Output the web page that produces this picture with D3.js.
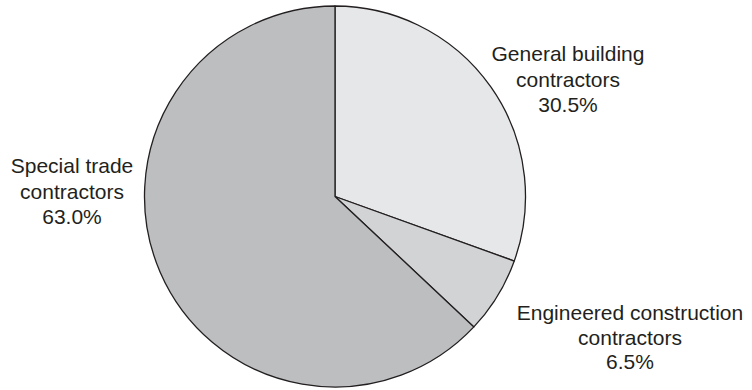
<!DOCTYPE html>
<html>
<head>
<meta charset="utf-8">
<script src="https://cdn.jsdelivr.net/npm/d3@7"></script>
<style>
  html, body { margin: 0; padding: 0; background: #fff; }
  svg { display: block; }
  text { font-family: "Liberation Sans", Arial, Helvetica, sans-serif; fill: #231f20; }
</style>
</head>
<body>
<script>
// Data
const categories = ["General building contractors", "Engineered construction contractors", "Special trade contractors"];
const labelLines = [["General building", "contractors"], ["Engineered construction", "contractors"], ["Special trade", "contractors"]];
const values = [30.5, 6.5, 63.0];
const colors = ["#e6e7e8", "#d1d3d4", "#bcbec0"];

// Layout
const W = 752, H = 390;
const cx = 335, cy = 196.5, R = 190.5;
const labelPos = [
  { x: 568, y: 61 },
  { x: 630, y: 320 },
  { x: 72, y: 173 }
];
const lineH = 25.5;

const svg = d3.select("body").append("svg").attr("width", W).attr("height", H);
const g = svg.append("g").attr("transform", `translate(${cx},${cy})`);

const pie = d3.pie().sort(null).value(d => d)(values);
const arc = d3.arc().innerRadius(0).outerRadius(R);

g.selectAll("path").data(pie).join("path")
  .attr("d", arc)
  .attr("fill", (d, i) => colors[i])
  .attr("stroke", "#231f20")
  .attr("stroke-width", 1.3)
  .attr("stroke-linejoin", "round");

const fmt = d3.format(".1f");
const lbl = svg.selectAll("text.lbl").data(values).join("text")
  .attr("class", "lbl")
  .attr("text-anchor", "middle")
  .attr("font-size", 21);
lbl.each(function(v, i) {
  const t = d3.select(this);
  const lines = labelLines[i].concat([fmt(v) + "%"]);
  const lh = i === 1 ? 24.5 : lineH;
  lines.forEach((s, j) => {
    t.append("tspan").attr("x", labelPos[i].x).attr("y", labelPos[i].y + j * lh).text(s);
  });
});
</script>
</body>
</html>
